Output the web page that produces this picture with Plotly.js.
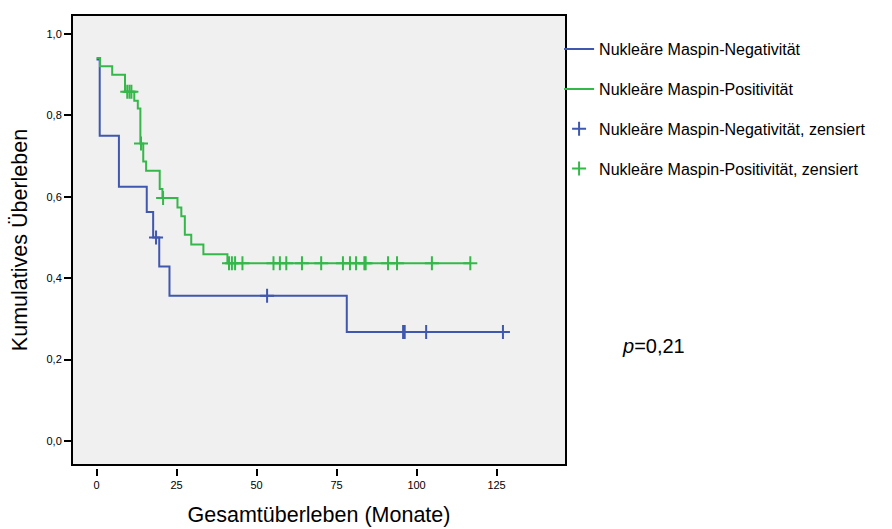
<!DOCTYPE html>
<html>
<head>
<meta charset="utf-8">
<script src="https://cdn.plot.ly/plotly-3.0.1.min.js"></script>
<style>html,body{margin:0;padding:0;background:#fff;}#chart{width:892px;height:529px;}</style>
</head>
<body>
<div id="chart"></div>
<script>
// Kaplan-Meier step data (time in months, cumulative survival)
const negTimes = [0, 1, 7, 15.7, 17.7, 19.6, 22.8, 78.2, 127];
const negSurv  = [0.9375, 0.75, 0.625, 0.5625, 0.5, 0.4286, 0.3571, 0.2679, 0.2679];
const negCensTimes = [18.6, 53.3, 95.8, 96.3, 103, 127];
const negCensSurv  = [0.5, 0.3571, 0.2679, 0.2679, 0.2679, 0.2679];

const posTimes = [0, 1.1, 4.9, 8.9, 11.8, 12.9, 13.7, 14.6, 15.5, 19.75, 20.6, 25.3, 26.5, 27.6, 29.6, 33.4, 40.9, 116.8];
const posSurv  = [0.941, 0.921, 0.900, 0.858, 0.836, 0.817, 0.731, 0.687, 0.664, 0.619, 0.597, 0.574, 0.552, 0.507, 0.483, 0.459, 0.437, 0.437];
const posCensTimes = [9.6, 10.3, 10.9, 13.9, 20.8, 41.4, 42.3, 43.3, 45.6, 55.3, 57.3, 59.3, 64.2, 70.2, 77.0, 79.2, 81.1, 83.7, 84.1, 91.1, 93.9, 104.8, 116.8];
const posCensSurv  = [0.858, 0.858, 0.858, 0.731, 0.597, 0.437, 0.437, 0.437, 0.437, 0.437, 0.437, 0.437, 0.437, 0.437, 0.437, 0.437, 0.437, 0.437, 0.437, 0.437, 0.437, 0.437, 0.437];

const names = ["Nukleäre Maspin-Negativität", "Nukleäre Maspin-Positivität",
               "Nukleäre Maspin-Negativität, zensiert", "Nukleäre Maspin-Positivität, zensiert"];
const xTicks = [0, 25, 50, 75, 100, 125];
const yTicks = [0, 0.2, 0.4, 0.6, 0.8, 1.0];

const blue = "#3F57AE";
const green = "#35B84A";

const traces = [
  {x: negTimes, y: negSurv, type: "scatter", mode: "lines", name: names[0], legendgroup: "a",
   line: {color: blue, width: 2, shape: "hv"}},
  {x: posTimes, y: posSurv, type: "scatter", mode: "lines", name: names[1], legendgroup: "b",
   line: {color: green, width: 2, shape: "hv"}},
  {x: negCensTimes, y: negCensSurv, type: "scatter", mode: "markers", name: names[2], legendgroup: "c",
   marker: {symbol: "cross-thin", size: 10, color: blue, line: {color: blue, width: 2}}},
  {x: posCensTimes, y: posCensSurv, type: "scatter", mode: "markers", name: names[3], legendgroup: "d",
   marker: {symbol: "cross-thin", size: 10, color: green, line: {color: green, width: 2}}}
];

const layout = {
  width: 892, height: 529,
  margin: {l: 72, r: 326, t: 15, b: 61},
  paper_bgcolor: "#ffffff",
  plot_bgcolor: "#f0f0f0",
  separators: ",.",
  font: {family: "Liberation Sans, Arial, sans-serif", color: "#000"},
  showlegend: true,
  xaxis: {
    range: [-7.66, 146.7], tickvals: xTicks, ticks: "outside", ticklen: 7, tickwidth: 2, tickcolor: "#000",
    showgrid: false, zeroline: false, showline: false,
    anchor: "free", position: 0,
    tickfont: {size: 11, color: "#000"},
    title: {text: "Gesamtüberleben (Monate)", font: {size: 21.5, color: "#000"}, standoff: 16}
  },
  yaxis: {
    range: [-0.059, 1.0467], domain: [0.0066, 1], tickvals: yTicks, tickformat: ".1f",
    ticks: "outside", ticklen: 7, tickwidth: 2, tickcolor: "#000",
    showgrid: false, zeroline: false, showline: false,
    tickfont: {size: 11, color: "#000"},
    title: {text: "Kumulatives Überleben", font: {size: 21.5, color: "#000"}, standoff: 12}
  },
  shapes: [
    {type: "rect", xref: "x domain", yref: "y domain", x0: 0, x1: 1, y0: 0, y1: 1,
     line: {color: "#000", width: 2}, fillcolor: "rgba(0,0,0,0)", layer: "above"}
  ],
  legend: {
    x: 0.986, xanchor: "left", y: 0.962, yanchor: "top",
    bgcolor: "rgba(0,0,0,0)", tracegroupgap: 16,
    font: {size: 16, color: "#000"}, itemwidth: 30
  },
  annotations: [
    {xref: "paper", yref: "paper", x: 1.109, y: 0.27, xanchor: "left", yanchor: "middle", showarrow: false,
     text: "<i>p</i>=0,21", font: {size: 20, color: "#000"}}
  ]
};

Plotly.newPlot("chart", traces, layout, {displayModeBar: false, staticPlot: true});
</script>
</body>
</html>
